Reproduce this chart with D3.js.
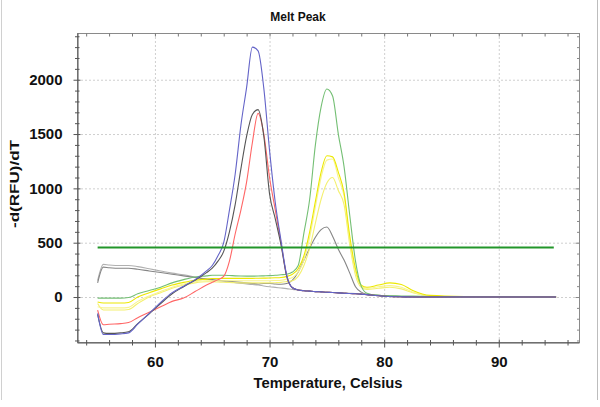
<!DOCTYPE html>
<html>
<head>
<meta charset="utf-8">
<script src="https://cdn.jsdelivr.net/npm/d3@7"></script>
<style>
  body { margin: 0; background: #fff; }
  text { font-family: "Liberation Sans", Arial, sans-serif; font-weight: bold; fill: #111; }
</style>
</head>
<body>
<svg width="600" height="407"></svg>
<script>
// temperature grid (Celsius)
const temps = [55, 55.5, 56, 57, 57.7, 58.5, 59.5, 60.5, 61.5, 62.5, 63.5, 64.5, 65, 65.5, 66, 66.5,
  67, 67.5, 68, 68.5, 69, 69.5, 70, 70.5, 71, 71.5, 72, 72.5, 73, 73.5, 74, 74.5,
  75, 75.5, 76, 76.5, 77, 77.5, 78, 78.5, 79.5, 80.5, 81.5, 82.5, 84, 87, 91, 95];

// -d(RFU)/dT per well
const grayLight = [150, 300, 295, 290, 290, 280, 260, 240, 220, 205, 185, 165, 155, 150, 145, 140,
  132, 126, 120, 115, 110, 102, 95, 89, 83, 77, 70, 65, 60, 55, 50, 48,
  45, 42, 40, 38, 35, 32, 28, 24, 15, 8, 4, 2, 0, 0, 0, 0];
const grayDark = [130, 275, 270, 265, 265, 255, 240, 225, 210, 195, 180, 165, 160, 155, 150, 145,
  140, 135, 130, 125, 120, 125, 125, 120, 118, 125, 155, 230, 340, 450, 550, 620,
  644, 560, 440, 340, 220, 95, 45, 25, 15, 8, 4, 2, 0, 0, 0, 0];
const blue = [-150, -345, -345, -340, -330, -250, -150, -50, 40, 100, 160, 240, 290, 380, 500, 800,
  1130, 1580, 1930, 2300, 2265, 1920, 1350, 870, 520, 200, 85, 65, 58, 54, 50, 47,
  44, 42, 38, 35, 32, 30, 27, 22, 12, 5, 2, 0, 0, 0, 0, 0];
const black = [-160, -330, -335, -330, -320, -245, -155, -60, 30, 95, 155, 225, 265, 330, 420, 600,
  850, 1180, 1480, 1680, 1725, 1480, 950, 720, 480, 190, 85, 65, 58, 54, 50, 47,
  44, 42, 38, 35, 32, 30, 27, 22, 12, 5, 2, 0, 0, 0, 0, 0];
const red = [-120, -255, -250, -245, -235, -190, -140, -90, -40, -10, 50, 110, 135, 160, 190, 330,
  580, 800, 1060, 1420, 1690, 1500, 1100, 800, 500, 190, 85, 65, 58, 54, 50, 47,
  44, 42, 38, 35, 32, 30, 27, 22, 12, 5, 2, 0, 0, 0, 0, 0];
const green = [-10, -10, -10, -10, -5, 30, 60, 90, 130, 160, 185, 195, 200, 200, 200, 198,
  195, 193, 192, 192, 193, 195, 197, 200, 205, 210, 230, 290, 590, 900, 1400, 1750,
  1914, 1850, 1500, 1200, 750, 330, 100, 35, 15, 12, 10, 8, 5, 3, 2, 0];
const yellow1 = [-45, -55, -55, -55, -50, 0, 40, 75, 110, 135, 155, 165, 170, 170, 172, 172,
  172, 172, 172, 172, 173, 174, 175, 177, 180, 190, 210, 260, 380, 600, 880, 1150,
  1300, 1290, 1150, 960, 560, 260, 110, 90, 110, 130, 115, 60, 15, 5, 2, 0];
const yellow2 = [-90, -100, -100, -100, -95, -40, 10, 50, 90, 120, 140, 150, 150, 150, 150, 150,
  150, 150, 150, 150, 150, 150, 150, 152, 155, 165, 180, 230, 340, 550, 830, 1100,
  1260, 1270, 1100, 930, 520, 230, 100, 80, 95, 105, 90, 45, 10, 4, 2, 0];
const yellow3 = [-60, -120, -120, -120, -115, -60, 0, 40, 80, 110, 130, 140, 140, 138, 136, 134,
  132, 130, 130, 130, 130, 130, 130, 132, 135, 142, 150, 190, 290, 450, 680, 900,
  1050, 1100, 980, 850, 480, 200, 90, 70, 80, 90, 75, 40, 10, 4, 2, 0];

const thresholdValue = 455;
const thresholdRange = [55, 94.8];

const xDomain = [53.2, 97.0];
const yDomain = [-414, 2430];
const xLabels = [60, 70, 80, 90];
const yLabels = [0, 500, 1000, 1500, 2000];

const series = [
  { values: grayLight, color: "#b0b0b0" },
  { values: grayDark, color: "#858585" },
  { values: yellow3, color: "#f4f070" },
  { values: yellow2, color: "#f8f490" },
  { values: yellow1, color: "#ece800" },
  { values: green, color: "#74bf74" },
  { values: red, color: "#ff6666" },
  { values: black, color: "#555555" },
  { values: blue, color: "#6464c8" }
];

const mLeft = 77, mTop = 33, mRight = 579, mBottom = 342;

const svg = d3.select("svg");

const x = d3.scaleLinear().domain(xDomain).range([mLeft, mRight]);
const y = d3.scaleLinear().domain(yDomain).range([mBottom, mTop]);

// image edges
svg.append("line").attr("x1", 1.5).attr("x2", 1.5).attr("y1", 0).attr("y2", 400).attr("stroke", "#d0d0d0");
svg.append("line").attr("x1", 597.5).attr("x2", 597.5).attr("y1", 0).attr("y2", 400).attr("stroke", "#bdbdbd");

// grid
const grid = svg.append("g").attr("class", "grid");
grid.selectAll("line.gx")
  .data(xLabels)
  .enter()
  .append("line")
  .attr("x1", d => x(d) + 0.5).attr("x2", d => x(d) + 0.5)
  .attr("y1", mTop).attr("y2", mBottom)
  .attr("stroke", "#cfcfcf").attr("stroke-dasharray", "2,2");
grid.selectAll("line.gy")
  .data(yLabels)
  .enter()
  .append("line")
  .attr("x1", mLeft).attr("x2", mRight)
  .attr("y1", d => y(d) + 0.5).attr("y2", d => y(d) + 0.5)
  .attr("stroke", "#cfcfcf").attr("stroke-dasharray", "2,2");

// curves
const line = d3.line()
  .x((d, i) => x(temps[i]))
  .y(d => y(d))
  .curve(d3.curveMonotoneX);

svg.append("g").attr("class", "curves")
  .selectAll("path")
  .data(series)
  .enter()
  .append("path")
  .attr("d", d => line(d.values))
  .attr("fill", "none")
  .attr("stroke", d => d.color)
  .attr("stroke-width", 1.1);

// threshold
svg.append("line")
  .attr("x1", x(thresholdRange[0])).attr("x2", x(thresholdRange[1]))
  .attr("y1", y(thresholdValue)).attr("y2", y(thresholdValue))
  .attr("stroke", "#22962a").attr("stroke-width", 2);

// frame
svg.append("rect")
  .attr("x", mLeft + 0.5).attr("y", mTop + 0.5)
  .attr("width", mRight - mLeft).attr("height", mBottom - mTop)
  .attr("fill", "none").attr("stroke", "#8a8a8a");

// axes
const yTicks = d3.range(-400, 2401, 100);
const xTicks = d3.range(54, 97, 2);
const isMajorY = d => d % 500 === 0;
const isMajorX = d => d % 10 === 0;

const yAxis = svg.append("g")
  .attr("transform", `translate(${mLeft + 0.5},0)`)
  .call(d3.axisLeft(y).tickValues(yTicks).tickFormat(d => isMajorY(d) ? d : "").tickSizeOuter(0));
yAxis.select(".domain").attr("stroke", "#555");
yAxis.selectAll(".tick line")
  .attr("x1", d => isMajorY(d) ? -4 : -2.5)
  .attr("x2", d => isMajorY(d) ? 3 : 2)
  .attr("stroke", "#555");
yAxis.selectAll(".tick text")
  .attr("x", -15)
  .style("font-size", "15px");

const xAxis = svg.append("g")
  .attr("transform", `translate(0,${mBottom + 0.5})`)
  .call(d3.axisBottom(x).tickValues(xTicks).tickFormat(d => isMajorX(d) ? d : "").tickSizeOuter(0));
xAxis.select(".domain").attr("stroke", "#555");
xAxis.selectAll(".tick line")
  .attr("y1", d => isMajorX(d) ? -3 : -2.5)
  .attr("y2", d => isMajorX(d) ? 5 : 3)
  .attr("stroke", "#555");
xAxis.selectAll(".tick text")
  .attr("y", 14)
  .style("font-size", "15px");

const topAxis = svg.append("g")
  .attr("transform", `translate(0,${mTop + 0.5})`)
  .call(d3.axisBottom(x).tickValues(xTicks).tickFormat("").tickSize(3).tickSizeOuter(0));
topAxis.select(".domain").remove();
topAxis.selectAll(".tick line").attr("stroke", "#777");

const rightAxis = svg.append("g")
  .attr("transform", `translate(${mRight + 0.5},0)`)
  .call(d3.axisLeft(y).tickValues(yTicks).tickFormat("").tickSizeOuter(0));
rightAxis.select(".domain").remove();
rightAxis.selectAll(".tick line")
  .attr("x2", d => isMajorY(d) ? -4 : -2.5)
  .attr("stroke", "#888");

svg.selectAll(".tick text").attr("fill", "#111").style("font-weight", "bold")
  .style("font-family", "'Liberation Sans', Arial, sans-serif");

// titles
svg.append("text")
  .attr("x", 298).attr("y", 21)
  .attr("text-anchor", "middle")
  .style("font-size", "12px")
  .text("Melt Peak");

svg.append("text")
  .attr("x", (mLeft + mRight) / 2).attr("y", 388)
  .attr("text-anchor", "middle")
  .attr("textLength", 149).attr("lengthAdjust", "spacingAndGlyphs")
  .style("font-size", "14px")
  .text("Temperature, Celsius");

svg.append("text")
  .attr("transform", `translate(14,184) rotate(-90)`)
  .attr("text-anchor", "middle")
  .attr("dy", "0.35em")
  .attr("textLength", 88).attr("lengthAdjust", "spacingAndGlyphs")
  .style("font-size", "13px")
  .text("-d(RFU)/dT");
</script>
</body>
</html>
